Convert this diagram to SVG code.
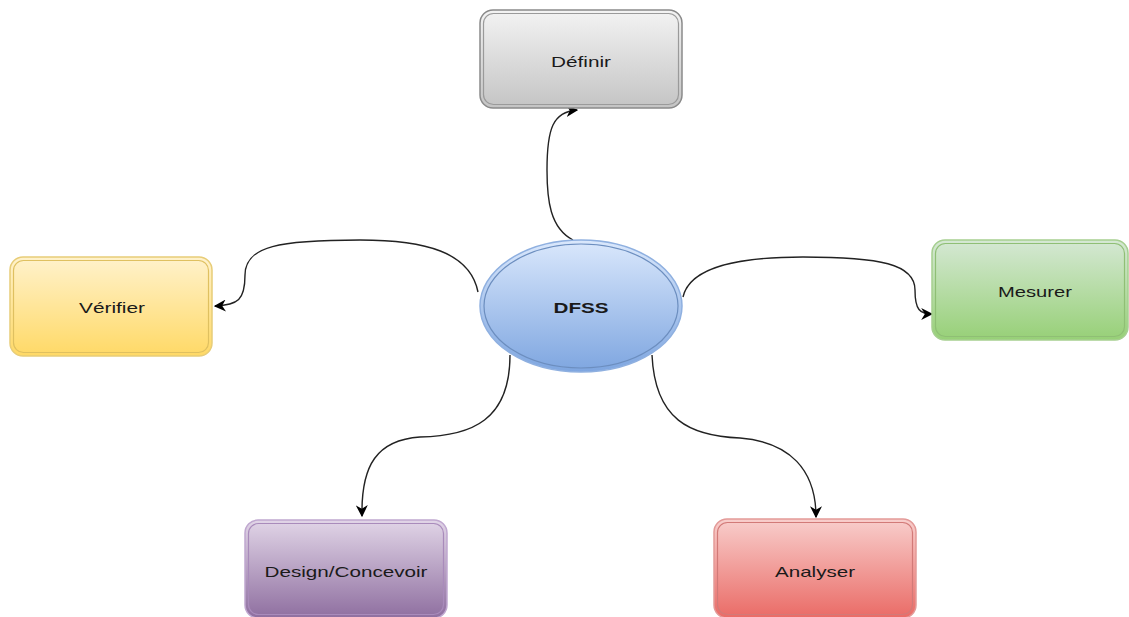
<svg xmlns="http://www.w3.org/2000/svg" width="1129" height="617" viewBox="0 0 1129 617">
<defs>
<linearGradient id="gGray" x1="0" y1="0" x2="0" y2="1"><stop offset="0" stop-color="#f3f3f3"/><stop offset="1" stop-color="#c4c4c4"/></linearGradient>
<linearGradient id="gYellow" x1="0" y1="0" x2="0" y2="1"><stop offset="0" stop-color="#fff2cc"/><stop offset="1" stop-color="#ffd966"/></linearGradient>
<linearGradient id="gGreen" x1="0" y1="0" x2="0" y2="1"><stop offset="0" stop-color="#d5e8d4"/><stop offset="1" stop-color="#97d077"/></linearGradient>
<linearGradient id="gPurple" x1="0" y1="0" x2="0" y2="1"><stop offset="0" stop-color="#e1d5e7"/><stop offset="1" stop-color="#8f6fa0"/></linearGradient>
<linearGradient id="gRed" x1="0" y1="0" x2="0" y2="1"><stop offset="0" stop-color="#f8cecc"/><stop offset="1" stop-color="#ea6b66"/></linearGradient>
<linearGradient id="gBlue" x1="0" y1="0" x2="0" y2="1"><stop offset="0" stop-color="#dae8fc"/><stop offset="1" stop-color="#7ea6e0"/></linearGradient>
<marker id="arr" viewBox="0 0 10 10" refX="9" refY="5" markerWidth="12" markerHeight="12" markerUnits="userSpaceOnUse" orient="auto">
<path d="M0,0 L10,5 L0,10 L3,5 Z" fill="#000"/>
</marker>
</defs>
<style>
.lbl{font-family:"Liberation Sans",Arial,sans-serif;font-size:15px;fill:#1a1a1a;text-anchor:middle}
.conn{fill:none;stroke:#222;stroke-width:1.4;marker-end:url(#arr)}
</style>
<rect width="1129" height="617" fill="#fff"/>
<g id="connectors">
<path class="conn" d="M573,240 C550,228 547,200 547,170 C547,128 553,112 577,110"/>
<path class="conn" d="M478,292 C470,252 425,240 360,240 C280,240 245,246 245,275 C245,300 238,305 215,306"/>
<path class="conn" d="M683,297 C690,266 740,257 803,257 C880,257 915,264 915,290 C915,310 920,314 932,314"/>
<path class="conn" d="M510,355 C510,420 472,436 420,437 C377,440 361,465 362,516"/>
<path class="conn" d="M652,355 C655,420 690,436 740,438 C790,442 816,470 816,517"/>
</g>
<g id="definir">
<rect x="480" y="10" width="202" height="98" rx="13" fill="url(#gGray)" stroke="#8a8a8a" stroke-width="1.5"/>
<rect x="483.5" y="13.5" width="195" height="91" rx="10" fill="none" stroke="#9a9a9a" stroke-width="1.2"/>
<text class="lbl" x="581" y="67" textLength="60" lengthAdjust="spacingAndGlyphs">Définir</text>
</g>
<g id="verifier">
<rect x="10" y="257" width="202" height="99" rx="13" fill="url(#gYellow)" stroke="#e8cd78" stroke-width="1.5"/>
<rect x="13.5" y="260.5" width="195" height="92" rx="10" fill="none" stroke="#dfc060" stroke-width="1.2"/>
<text class="lbl" x="112" y="313" textLength="66" lengthAdjust="spacingAndGlyphs">Vérifier</text>
</g>
<g id="mesurer">
<rect x="932" y="240" width="196" height="100" rx="13" fill="url(#gGreen)" stroke="#a6cf90" stroke-width="1.5"/>
<rect x="935.5" y="243.5" width="189" height="93" rx="10" fill="none" stroke="#8fbf75" stroke-width="1.2"/>
<text class="lbl" x="1035" y="297" textLength="74" lengthAdjust="spacingAndGlyphs">Mesurer</text>
</g>
<g id="design">
<rect x="245" y="520" width="202" height="98" rx="13" fill="url(#gPurple)" stroke="#c0a8d0" stroke-width="1.5"/>
<rect x="248.5" y="523.5" width="195" height="91" rx="10" fill="none" stroke="#a98bbb" stroke-width="1.2"/>
<text class="lbl" x="346" y="577" textLength="163" lengthAdjust="spacingAndGlyphs">Design/Concevoir</text>
</g>
<g id="analyser">
<rect x="714" y="519" width="202" height="99" rx="13" fill="url(#gRed)" stroke="#e39a98" stroke-width="1.5"/>
<rect x="717.5" y="522.5" width="195" height="92" rx="10" fill="none" stroke="#d27a78" stroke-width="1.2"/>
<text class="lbl" x="815" y="577" textLength="80" lengthAdjust="spacingAndGlyphs">Analyser</text>
</g>
<g id="dfss">
<ellipse cx="581" cy="306" rx="101" ry="66" fill="url(#gBlue)" stroke="#8fb0e0" stroke-width="1.5"/>
<ellipse cx="581" cy="306" rx="97" ry="62" fill="none" stroke="#6c8ebf" stroke-width="1.2"/>
<text class="lbl" x="581" y="313" style="font-weight:bold" textLength="55" lengthAdjust="spacingAndGlyphs">DFSS</text>
</g>
</svg>
